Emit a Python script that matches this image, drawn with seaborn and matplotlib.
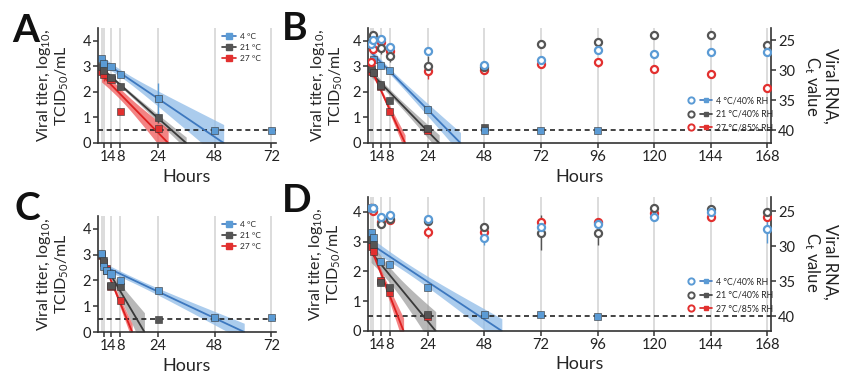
import numpy as np
import pandas as pd
import matplotlib
matplotlib.use("Agg")
import matplotlib.pyplot as plt
import seaborn as sns
from matplotlib.lines import Line2D
from matplotlib.legend_handler import HandlerTuple

nan = np.nan

# ---------------- data ----------------
SERIES_AC = ["4 °C", "21 °C", "27 °C"]
SERIES_BD = ["4 °C/40% RH", "21 °C/40% RH", "27 °C/85% RH"]

HOURS_A = [0, 1, 4, 8, 24, 48, 72]
A_TITER_4C = [3.30, 3.12, 3.00, 2.69, 1.75, 0.50, 0.50]
A_TITER_21C = [3.00, 2.85, 2.55, 2.20, 1.00, nan, nan]
A_TITER_27C = [2.80, 2.70, 2.50, 1.25, 0.58, nan, nan]
A_SD_4C = [0.10, 0.12, 0.06, 0.08, 0.60, 0.0, 0.0]
A_SD_21C = [0.06, 0.08, 0.10, 0.08, 0.22, 0.0, 0.0]
A_SD_27C = [0.10, 0.28, 0.10, 0.05, 0.10, 0.0, 0.0]
A_FIT_MAX = [24, 24, 24]

HOURS_C = [0, 1, 2, 4, 8, 24, 48, 72]
C_TITER_4C = [3.05, 2.55, 2.40, 2.25, 2.00, 1.60, 0.58, 0.55]
C_TITER_21C = [2.99, 2.77, 2.40, 1.82, 1.78, 0.50, nan, nan]
C_TITER_27C = [2.95, 2.70, 2.45, 1.75, 1.22, nan, nan, nan]
C_SD_4C = [0.08, 0.08, 0.06, 0.06, 0.10, 0.05, 0.08, 0.08]
C_SD_21C = [0.06, 0.08, 0.06, 0.10, 0.10, 0.0, 0.0, 0.0]
C_SD_27C = [0.06, 0.06, 0.06, 0.10, 0.12, 0.0, 0.0, 0.0]
C_FIT_MAX = [48, 8, 8]

HOURS_BD = [0, 1, 4, 8, 24, 48, 72, 96, 120, 144, 168]
B_TITER_4C = [3.84, 3.25, 3.03, 2.84, 1.32, 0.50, 0.50, 0.50, nan, nan, nan]
B_TITER_21C = [2.92, 2.75, 2.27, 1.65, 0.58, 0.60, nan, nan, nan, nan, nan]
B_TITER_27C = [2.80, 2.75, 2.20, 1.23, 0.50, nan, nan, nan, nan, nan, nan]
B_SD_4C = [0.10, 0.10, 0.08, 0.10, 0.10, 0.0, 0.0, 0.0, 0, 0, 0]
B_SD_21C = [0.08, 0.08, 0.10, 0.10, 0.10, 0.0, 0, 0, 0, 0, 0]
B_SD_27C = [0.10, 0.15, 0.10, 0.10, 0.0, 0, 0, 0, 0, 0, 0]
B_FIT_MAX = [24, 24, 8]
B_CT_4C = [25.7, 25.0, 24.9, 26.2, 26.9, 29.2, 28.3, 26.7, 27.3, 27.0, 27.0]
B_CT_21C = [24.8, 24.2, 26.4, 27.6, 29.3, 29.5, 25.7, 25.3, 24.2, 24.2, 25.8]
B_CT_27C = [28.6, 26.5, 25.3, 26.8, 30.2, 29.9, 29.0, 28.7, 29.8, 30.7, 32.9]
B_CT_SD_4C = [0.3, 0.3, 0.3, 0.4, 0.4, 0.5, 0.3, 0.3, 0.3, 0.3, 0.3]
B_CT_SD_21C = [0.3, 0.3, 1.0, 1.0, 1.6, 0.5, 0.3, 0.3, 0.3, 0.3, 0.3]
B_CT_SD_27C = [0.5, 0.3, 0.3, 0.6, 1.2, 0.8, 0.4, 0.8, 0.6, 0.6, 0.6]

D_TITER_4C = [3.30, 3.13, 2.33, 2.24, 1.47, 0.55, 0.55, 0.50, nan, nan, nan]
D_TITER_21C = [3.08, 2.91, 1.63, 1.47, 0.55, nan, nan, nan, nan, nan, nan]
D_TITER_27C = [2.85, 2.68, 1.70, 1.30, 0.50, nan, nan, nan, nan, nan, nan]
D_SD_4C = [0.12, 0.10, 0.10, 0.08, 0.10, 0.08, 0.08, 0.0, 0, 0, 0]
D_SD_21C = [0.08, 0.08, 0.10, 0.08, 0.08, 0, 0, 0, 0, 0, 0]
D_SD_27C = [0.08, 0.10, 0.10, 0.10, 0.0, 0, 0, 0, 0, 0, 0]
D_FIT_MAX = [48, 24, 8]
D_CT_4C = [24.5, 24.6, 25.85, 25.6, 26.1, 28.8, 27.3, 26.8, 25.85, 25.1, 27.5]
D_CT_21C = [24.5, 24.6, 26.8, 26.2, 26.4, 27.3, 28.1, 28.1, 24.5, 24.7, 25.1]
D_CT_27C = [24.6, 25.0, 26.6, 26.3, 28.0, 28.0, 26.5, 26.6, 25.3, 25.9, 25.8]
D_CT_SD_4C = [0.3, 0.3, 0.3, 0.3, 0.3, 1.0, 0.5, 0.3, 0.3, 0.3, 2.0]
D_CT_SD_21C = [0.3, 0.3, 0.3, 0.3, 0.3, 0.4, 2.5, 1.7, 0.3, 0.3, 0.3]
D_CT_SD_27C = [0.3, 0.3, 0.3, 0.3, 0.8, 0.5, 0.3, 0.3, 0.3, 0.3, 0.3]

LOD = 0.5
VLINES_AC = [0, 1, 4, 8, 24, 48, 72]
VLINES_BD = [0, 1, 4, 8, 24, 48, 72, 96, 120, 144, 168]
XTICKS_AC = [1, 4, 8, 24, 48, 72]
XTICKS_BD = [1, 4, 8, 24, 48, 72, 96, 120, 144, 168]

# ---------------- style ----------------
sns.set_style("ticks")
plt.rcParams["font.family"] = ["Lato", "DejaVu Sans"]
plt.rcParams["mathtext.fontset"] = "custom"
plt.rcParams["mathtext.rm"] = "Lato"
plt.rcParams["mathtext.it"] = "Lato"

COLORS = ["#5b9bd5", "#555555", "#e2302f"]
LINE_COLORS = ["#3d78bf", "#3a3a3a", "#dd1f1f"]
BAND_COLORS = ["#8fbbe8", "#9a9a9a", "#f05a5a"]
BAND_ALPHA = [0.75, 0.7, 0.75]
SPINE = "#333333"

fig = plt.figure(figsize=(8.57, 3.77), dpi=100)
W, H = 857, 377


def axes_px(left, top, right, bottom):
    return fig.add_axes([left / W, 1 - bottom / H, (right - left) / W, (bottom - top) / H])


def fit_band(t, y, sd, tmax, n_rep=3, tcrit=2.16):
    t = np.asarray(t, float)
    y = np.asarray(y, float)
    sd = np.asarray(sd, float)
    m = (t <= tmax) & ~np.isnan(y)
    x, yy, s_ = t[m], y[m], sd[m]
    b1, b0 = np.polyfit(x, yy, 1)
    k = len(x)
    resid = yy - (b0 + b1 * x)
    N = n_rep * k
    s2 = (n_rep * np.sum(resid ** 2) + (n_rep - 1) * np.sum(s_ ** 2)) / (N - 2)
    xbar = x.mean()
    sxx = n_rep * np.sum((x - xbar) ** 2)
    xend = -b0 / b1
    grid = np.linspace(0, xend, 200)
    yhat = b0 + b1 * grid
    se = np.sqrt(s2 * (1 / N + (grid - xbar) ** 2 / sxx))
    return grid, yhat, yhat - tcrit * se, yhat + tcrit * se


def style_axis(ax):
    for s in ["left", "bottom", "right"]:
        ax.spines[s].set_color(SPINE)
        ax.spines[s].set_linewidth(1.2)
    ax.tick_params(direction="out", length=3.5, width=1.1, colors=SPINE,
                   labelsize=10.5, pad=1.5, labelcolor="#222222")


def draw_panel(ax, hours, vlines, titers, sds, fit_max, xticks, xlim, names):
    for h in vlines:
        ax.axvline(h, color="#d6d6d6", lw=1.2, zorder=0)
    ax.axhline(LOD, color="#222222", lw=1.2, ls=(0, (3, 2.2)), zorder=1.5)
    # bands and regression lines
    for i in range(3):
        g, yh, lo, hi = fit_band(hours, titers[i], sds[i], fit_max[i])
        ax.fill_between(g, lo, hi, color=BAND_COLORS[i], alpha=BAND_ALPHA[i],
                        lw=0, zorder=1)
    for i in range(3):
        g, yh, lo, hi = fit_band(hours, titers[i], sds[i], fit_max[i])
        sns.lineplot(x=g, y=yh, ax=ax, color=LINE_COLORS[i], lw=1.3, zorder=2)
    # error bars + squares
    rows = []
    for i in [2, 1, 0]:
        y = np.asarray(titers[i], float)
        ax.errorbar(hours, y, yerr=sds[i], fmt="none", ecolor=COLORS[i],
                    elinewidth=1.0, capsize=0, zorder=2.5)
        for h, v in zip(hours, y):
            if not np.isnan(v):
                rows.append({"h": h, "v": v, "s": names[i]})
    df = pd.DataFrame(rows)
    sns.scatterplot(data=df, x="h", y="v", hue="s", palette=dict(zip(names, COLORS)),
                    marker="s", s=26, linewidth=0.4, edgecolor="#333333",
                    legend=False, ax=ax, zorder=3)
    ax.set_xlim(*xlim)
    ax.set_ylim(0, 4.5)
    ax.set_xticks(xticks)
    ax.set_xticklabels([str(x) for x in xticks])
    ax.set_yticks([0, 1, 2, 3, 4])
    ax.set_ylabel("Viral titer, log$_{10}$,\nTCID$_{50}$/mL", fontsize=11.5, linespacing=1.05)
    ax.set_xlabel("Hours", fontsize=13)
    sns.despine(ax=ax)
    style_axis(ax)


def draw_ct(ax, hours, cts, ctsds):
    ax2 = ax.twinx()
    for i in [2, 1, 0]:
        ax2.errorbar(hours, cts[i], yerr=ctsds[i], fmt="none", ecolor=COLORS[i],
                     elinewidth=1.0, capsize=0, zorder=2)
        ax2.scatter(hours, cts[i], s=26, facecolors="white", edgecolors=COLORS[i],
                    linewidths=1.6, zorder=3)
    ax2.set_ylim(42.1, 23.0)
    ax2.set_yticks([25, 30, 35, 40])
    for s in ["top", "left", "bottom"]:
        ax2.spines[s].set_visible(False)
    ax.spines["right"].set_visible(False)
    style_axis(ax2)
    ax2.grid(False)
    return ax2


def ac_legend(ax, y0):
    handles = [Line2D([0], [0], color=LINE_COLORS[i], lw=1.2, marker="s", markersize=4,
                      markerfacecolor=COLORS[i], markeredgecolor=COLORS[i]) for i in range(3)]
    ax.legend(handles, SERIES_AC, loc="upper left", bbox_to_anchor=(218 / W, y0),
              bbox_transform=fig.transFigure, frameon=False, fontsize=6,
              handlelength=1.7, handletextpad=0.5, labelspacing=0.45, borderpad=0)


def bd_legend(ax, y0):
    handles = []
    for i in range(3):
        c = Line2D([0], [0], ls="none", marker="o", markersize=4.5, markerfacecolor="white",
                   markeredgecolor=COLORS[i], markeredgewidth=1.4)
        l = Line2D([0], [0], color=LINE_COLORS[i], lw=1.2, marker="s", markersize=3.5,
                   markerfacecolor=COLORS[i], markeredgecolor=COLORS[i])
        handles.append((c, l))
    leg = ax.legend(handles, SERIES_BD, loc="upper left", bbox_to_anchor=(681 / W, y0),
                    bbox_transform=fig.transFigure, frameon=False, fontsize=6.3,
                    handlelength=3.0, handletextpad=0.5, labelspacing=0.5, borderpad=0,
                    handler_map={tuple: HandlerTuple(ndivide=None, pad=0.4)})
    leg.set_zorder(10)
    return leg


# Panel A
axA = axes_px(98, 28, 276, 143)
draw_panel(axA, HOURS_A, VLINES_AC, [A_TITER_4C, A_TITER_21C, A_TITER_27C],
           [A_SD_4C, A_SD_21C, A_SD_27C], A_FIT_MAX, XTICKS_AC, (-1.5, 74), SERIES_AC)
axA.yaxis.set_label_coords(-0.15, 0.5)
axA.xaxis.set_label_coords(0.5, -0.23)
ac_legend(axA, 1 - 29 / H)

# Panel B
axB = axes_px(368, 28, 771, 143)
draw_panel(axB, HOURS_BD, VLINES_BD, [B_TITER_4C, B_TITER_21C, B_TITER_27C],
           [B_SD_4C, B_SD_21C, B_SD_27C], B_FIT_MAX, XTICKS_BD, (-1.3, 169.5), SERIES_BD)
axB.yaxis.set_label_coords(-0.058, 0.5)
axB.xaxis.set_label_coords(0.526, -0.23)
axB2 = draw_ct(axB, HOURS_BD, [B_CT_4C, B_CT_21C, B_CT_27C],
               [B_CT_SD_4C, B_CT_SD_21C, B_CT_SD_27C])
bd_legend(axB2, 1 - 92 / H)

# Panel C
axC = axes_px(98, 216, 276, 332)
draw_panel(axC, HOURS_C, VLINES_AC, [C_TITER_4C, C_TITER_21C, C_TITER_27C],
           [C_SD_4C, C_SD_21C, C_SD_27C], C_FIT_MAX, XTICKS_AC, (-1.5, 74), SERIES_AC)
axC.yaxis.set_label_coords(-0.15, 0.5)
axC.xaxis.set_label_coords(0.5, -0.22)
ac_legend(axC, 1 - 217 / H)

# Panel D
axD = axes_px(368, 197, 771, 331)
draw_panel(axD, HOURS_BD, VLINES_BD, [D_TITER_4C, D_TITER_21C, D_TITER_27C],
           [D_SD_4C, D_SD_21C, D_SD_27C], D_FIT_MAX, XTICKS_BD, (-1.3, 169.5), SERIES_BD)
axD.yaxis.set_label_coords(-0.062, 0.5)
axD.xaxis.set_label_coords(0.526, -0.19)
axD2 = draw_ct(axD, HOURS_BD, [D_CT_4C, D_CT_21C, D_CT_27C],
               [D_CT_SD_4C, D_CT_SD_21C, D_CT_SD_27C])
bd_legend(axD2, 1 - 273 / H)

# right-hand labels
for yc in [86, 262]:
    fig.text(820 / W, 1 - yc / H, "Viral RNA,\nC$_\\mathrm{t}$ value", rotation=270,
             ha="center", va="center", fontsize=12, linespacing=1.05, color="#222222")

# panel letters
for lab, x, y in [("A", 12, 31), ("B", 282, 29), ("C", 14, 208), ("D", 282, 201)]:
    fig.text(x / W, 1 - y / H, lab, fontsize=28, fontweight="bold", ha="left", va="center",
             color="#111111")

fig.savefig("out.png", dpi=100)
